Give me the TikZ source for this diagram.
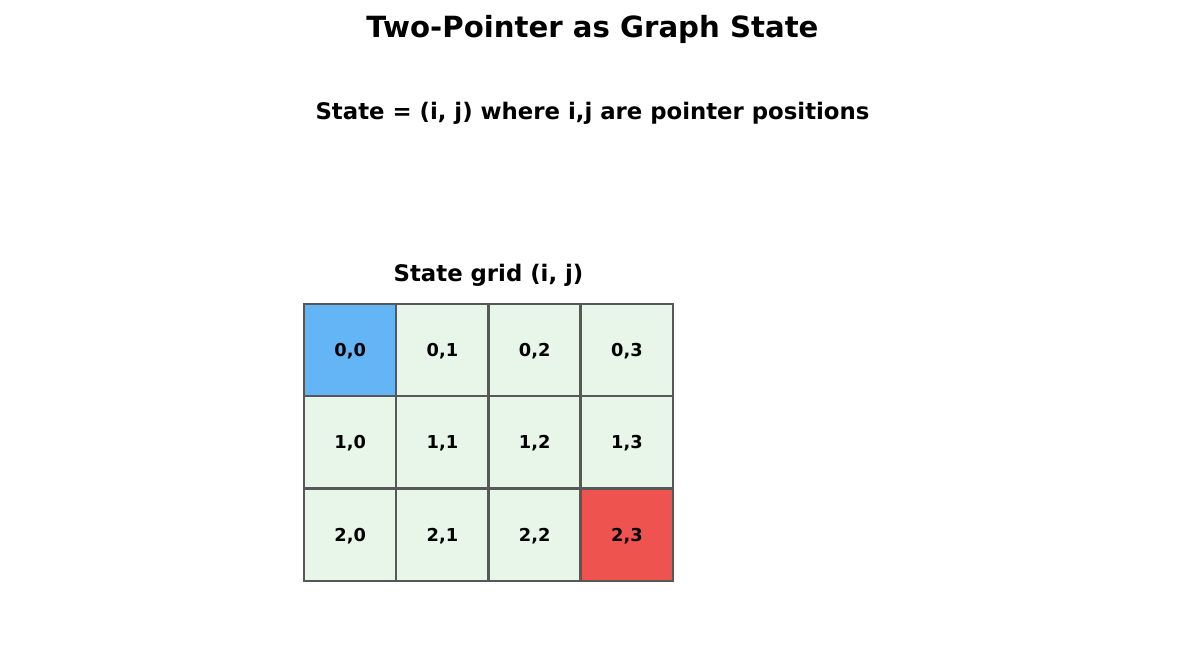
\documentclass[tikz,border=0pt]{standalone}
\usepackage{fontspec}
\setmainfont{DejaVu Sans}
\definecolor{startc}{HTML}{64B5F6}
\definecolor{endc}{HTML}{EF5350}
\definecolor{cellc}{HTML}{E8F5E9}
\definecolor{edgec}{HTML}{585858}
\begin{document}
\begin{tikzpicture}[x=1pt,y=-1pt,
  cell/.style={fill=cellc,minimum width=92.25pt,minimum height=92.33pt,inner sep=0pt,font=\fontsize{17.8}{20}\selectfont\bfseries},
  border/.style={draw=edgec,line width=2.4pt},
  ttl/.style={inner sep=0pt,font=\fontsize{29.2}{34}\selectfont\bfseries},
  sub/.style={inner sep=0pt,font=\fontsize{22.8}{27}\selectfont\bfseries}]
\useasboundingbox (0,0) rectangle (1185,654);
\node[ttl] (title) at (592.5,29) {Two-Pointer as Graph State};
\node[sub] (subtitle) at (592.5,113.5) {State = (i, j) where i,j are pointer positions};
\node[sub] (gridtitle) at (488.5,275) {State grid (i, j)};
\foreach \r in {0,1,2}{
  \foreach \c in {0,1,2,3}{
    \node[cell] (c\r\c) at ({304+92.25*(\c+0.5)},{304+92.33*(\r+0.5)}) {};
  }
}
\node[cell,fill=startc] at (c00) {};
\node[cell,fill=endc] at (c23) {};
\foreach \c in {1,2,3}{
  \draw[border] (c0\c.north west) -- (c2\c.south west);
}
\foreach \r in {1,2}{
  \draw[border] (c\r0.north west) -- (c\r3.north east);
}
\draw[border] (c00.north west) rectangle (c23.south east);
\foreach \r in {0,1,2}{
  \foreach \c in {0,1,2,3}{
    \node[cell,fill=none] at ([yshift=-1pt]c\r\c) {\r,\c};
  }
}
\end{tikzpicture}
\end{document}
